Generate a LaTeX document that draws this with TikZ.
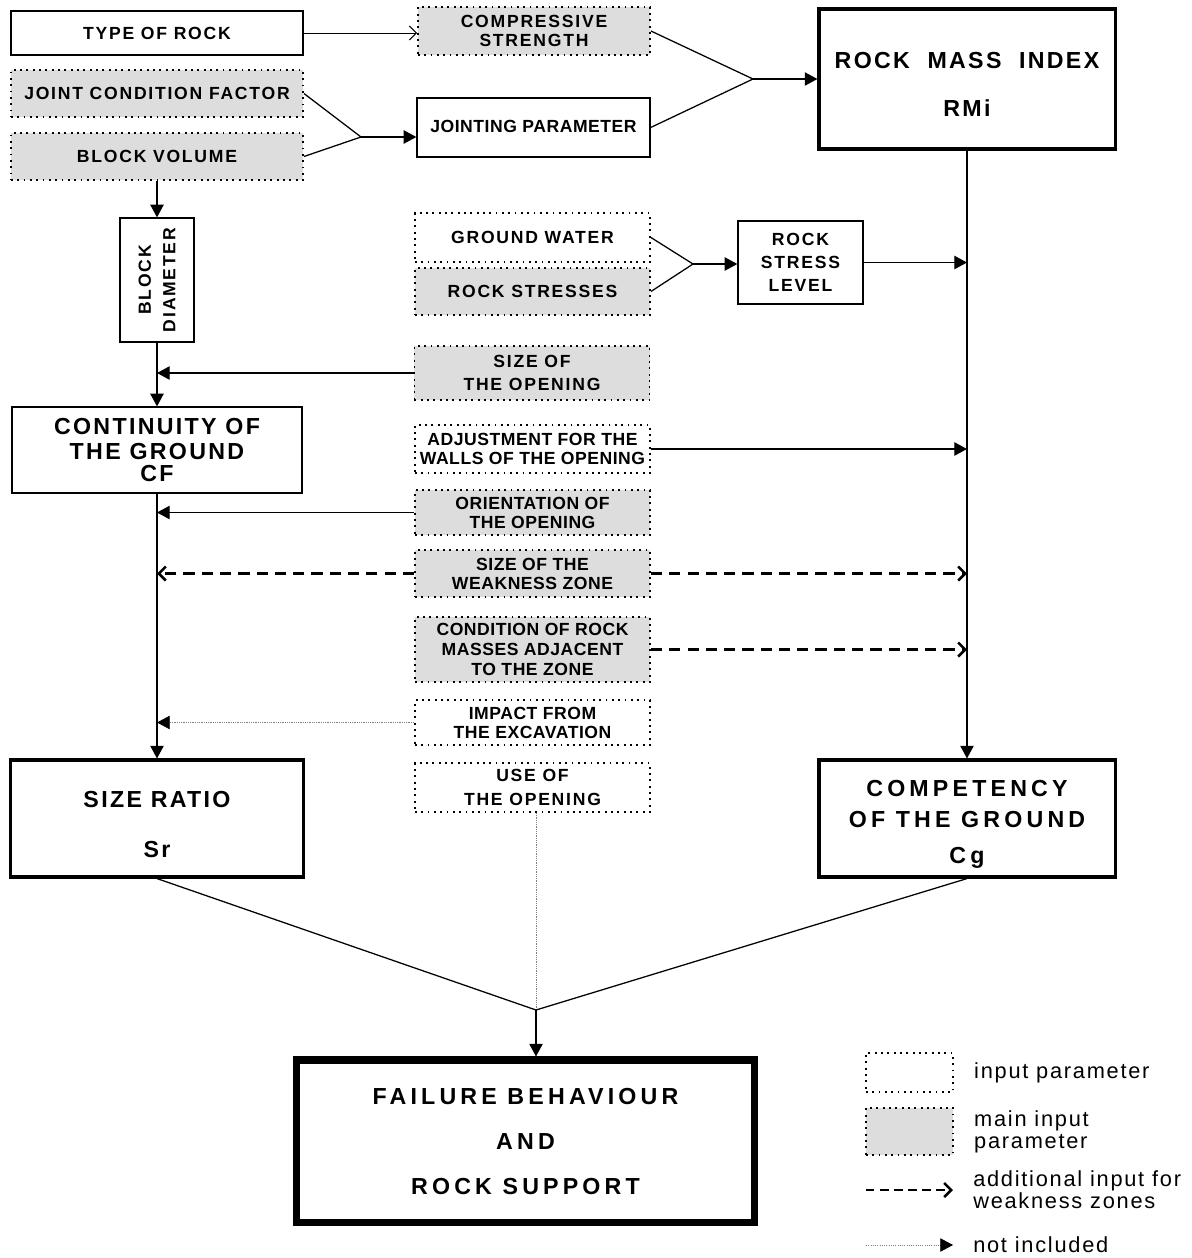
\documentclass[tikz,border=0pt]{standalone}
\usepackage{fontspec}
\setmainfont{Liberation Sans}
\newfontfamily\tightsf[LetterSpace=3]{Liberation Sans}
\newfontfamily\spacedsf[LetterSpace=10]{Liberation Sans}
\newfontfamily\widesf[LetterSpace=18]{Liberation Sans}
\newfontfamily\keysf[LetterSpace=8]{Liberation Sans}
\usetikzlibrary{arrows.meta, positioning}
\definecolor{mainshade}{RGB}{221,221,221}

\begin{document}
\begin{tikzpicture}[x=0.025cm, y=-0.025cm,
  tighttext/.style={font=\tightsf\bfseries\fontsize{12.5}{13.5}\selectfont},
  spacedtext/.style={font=\spacedsf\bfseries\fontsize{12.5}{13.5}\selectfont},
  bigtext/.style={font=\spacedsf\bfseries\fontsize{16.5}{18}\selectfont},
  widetext/.style={font=\widesf\bfseries\fontsize{16.5}{18}\selectfont},
  inbox/.style={draw, line width=1.3pt, dash pattern=on 1.3pt off 3.2pt,
    minimum width=5.875cm, align=center, inner sep=0pt, tighttext},
  mainbox/.style={inbox, fill=mainshade},
  plainbox/.style={draw, line width=0.9pt, align=center, inner sep=0pt},
  heavybox/.style={draw, line width=2.2pt, align=center, inner sep=0pt, bigtext},
  failbox/.style={draw, line width=5pt, align=center, inner sep=0pt, widetext},
  arr/.style={-{Triangle[length=9pt, width=9.5pt]}, line width=0.9pt},
  barb/.style={-{Straight Barb[length=5pt, width=10pt]}, line width=0.7pt},
  weak/.style={-{Straight Barb[length=5pt, width=10pt]}, line width=1.8pt,
    dash pattern=on 8pt off 5pt},
  notinc/.style={-{Triangle[length=9pt, width=9.5pt, color=black]}, gray,
    line width=0.5pt, dash pattern=on 0.8pt off 0.8pt},
  keytext/.style={font=\keysf\fontsize{15.5}{15.5}\selectfont, align=left, inner sep=0pt}
]
  \useasboundingbox (0,0) rectangle (1192,1258);

  % input side
  \node[plainbox, spacedtext, minimum width=7.3cm, minimum height=1.1cm] (rocktype) at (157,33) {TYPE OF ROCK};
  \node[mainbox, spacedtext, minimum width=7.3cm, minimum height=1.175cm] (jointcond) at (157,93.5) {JOINT CONDITION FACTOR};
  \node[mainbox, spacedtext, minimum width=7.3cm, minimum height=1.175cm] (blockvol) at (157,156.5) {BLOCK VOLUME};
  \node[mainbox, spacedtext, minimum width=5.8cm, minimum height=1.2cm] (compstr) at (534,31) {COMPRESSIVE\\STRENGTH};
  \node[plainbox, tighttext, minimum width=5.825cm, minimum height=1.475cm] (jointpar) at (533.5,127.5) {\raisebox{2pt}{JOINTING PARAMETER}};
  \node[heavybox, minimum width=7.4cm, minimum height=3.5cm] (rmi) at (967,79) {\rule{0pt}{19pt}ROCK\ \ MASS\ \ INDEX\\[16pt]RMi};
  \node[plainbox, spacedtext, rotate=90, minimum width=3.1cm, minimum height=1.85cm] (blockdia) at (157,280) {BLOCK\\[4pt]DIAMETER};

  \node[inbox, spacedtext, minimum height=1.225cm] (groundwater) at (532.5,237.5) {GROUND WATER};
  \node[mainbox, spacedtext, minimum height=1.175cm] (rockstress) at (532.5,291.5) {ROCK STRESSES};
  \node[plainbox, spacedtext, minimum width=3.125cm, minimum height=2.075cm] (stresslevel) at (800.5,262.5) {ROCK\\[3pt]STRESS\\[3pt]LEVEL};
  \node[mainbox, spacedtext, minimum height=1.35cm] (sizeopen) at (532,373) {SIZE OF\\[3pt]THE OPENING};
  \node[plainbox, bigtext, minimum width=7.25cm, minimum height=2.15cm] (continuity) at (157,450) {CONTINUITY OF\\THE GROUND\\[-2.5pt]CF};
  \node[inbox, minimum height=1.2cm] (walls) at (532.5,449) {ADJUSTMENT FOR THE\\WALLS OF THE OPENING};
  \node[mainbox, minimum height=1.125cm] (orient) at (532.5,512.5) {ORIENTATION OF\\THE OPENING};
  \node[mainbox, minimum height=1.175cm] (weaksize) at (532.5,573.5) {SIZE OF THE\\WEAKNESS ZONE};
  \node[mainbox, minimum height=1.625cm] (adjacent) at (532.5,649.5) {CONDITION OF ROCK\\[1pt]MASSES ADJACENT\\[1pt]TO THE ZONE};
  \node[inbox, minimum height=1.125cm] (impact) at (532.5,722.5) {IMPACT FROM\\THE EXCAVATION};
  \node[inbox, spacedtext, minimum height=1.225cm] (useopen) at (532.5,787.5) {USE OF\\[4pt]THE OPENING};

  % results
  \node[heavybox, minimum width=7.325cm, minimum height=2.925cm] (sizeratio) at (157,818.5) {\rule{0pt}{20pt}SIZE RATIO\\[17pt]Sr};
  \node[heavybox, widetext, minimum width=7.4cm, minimum height=2.925cm] (competency) at (967,818.5) {\rule{0pt}{20pt}COMPETENCY\\[4pt]OF THE GROUND\\[8pt]Cg};
  \node[failbox, minimum width=11.425cm, minimum height=4.05cm] (failure) at (525.5,1141) {FAILURE BEHAVIOUR\\[14pt]AND\\[14pt]ROCK SUPPORT};

  \coordinate (jointmerge) at (361,137);
  \coordinate (rmimerge) at (753,79);
  \coordinate (stressmerge) at (693,264);
  \coordinate (failmerge) at (536,1010);

  \draw[barb] (rocktype.east) -- (rocktype.east -| compstr.west);
  \draw[line width=0.9pt] (jointcond.east) -- (jointmerge) -- (blockvol.east);
  \draw[arr] (jointmerge) -- (jointmerge -| jointpar.west);
  \draw[line width=0.9pt] (compstr.east) -- (rmimerge) -- (jointpar.east);
  \draw[arr] (rmimerge) -- (rmi.west);
  \draw[line width=0.9pt] (groundwater.east) -- (stressmerge) -- (rockstress.east);
  \draw[arr] (stressmerge) -- (stressmerge -| stresslevel.west);
  \draw[arr] (stresslevel.east) -- (stresslevel.east -| rmi);
  \draw[arr] (walls.east) -- (walls.east -| rmi);
  \draw[arr] (rmi) -- (competency);

  \draw[arr] (blockvol) -- (blockdia);
  \draw[arr] (blockdia) -- (continuity);
  \draw[arr] (sizeopen.west) -- (sizeopen.west -| blockdia);
  \draw[arr] (continuity) -- (sizeratio);
  \draw[arr] (orient.west) -- (orient.west -| continuity);
  \draw[weak] (weaksize.west) -- (weaksize.west -| continuity);
  \draw[weak] (weaksize.east) -- (weaksize.east -| rmi);
  \draw[weak] (adjacent.east) -- (adjacent.east -| rmi);
  \draw[notinc] (impact.west) -- (impact.west -| continuity);

  \draw[gray, line width=0.5pt, dash pattern=on 0.8pt off 0.8pt] (useopen.south -| failmerge) -- (failmerge);
  \draw[line width=0.9pt] (sizeratio.south) -- (failmerge) -- (competency.south);
  \draw[arr] (failmerge) -- (failmerge |- failure.north);

  % key
  \node[inbox, minimum width=2.175cm, minimum height=0.975cm] (keyinput) at (909.5,1072.5) {};
  \node[mainbox, minimum width=2.175cm, minimum height=1.175cm] (keymain) at (909.5,1131.5) {};
  \coordinate (keyweakA) at (866,1190);
  \coordinate (keyweakB) at (953,1190);
  \coordinate (keyomitA) at (866,1245);
  \coordinate (keyomitB) at (953,1245);
  \draw[weak, dash pattern=on 6pt off 4pt] (keyweakA) -- (keyweakB);
  \draw[notinc] (keyomitA) -- (keyomitB);
  \node[keytext, right=0.5cm of keyinput] (keyinputtext) {input parameter};
  \node[keytext, right=0.5cm of keymain] (keymaintext) {main input\\parameter};
  \node[keytext, anchor=west] (keyweaktext) at ([xshift=0.5cm]keyweakB) {additional input for\\weakness zones};
  \node[keytext, anchor=west] (keyomittext) at ([xshift=0.5cm]keyomitB) {not included};
\end{tikzpicture}
\end{document}
